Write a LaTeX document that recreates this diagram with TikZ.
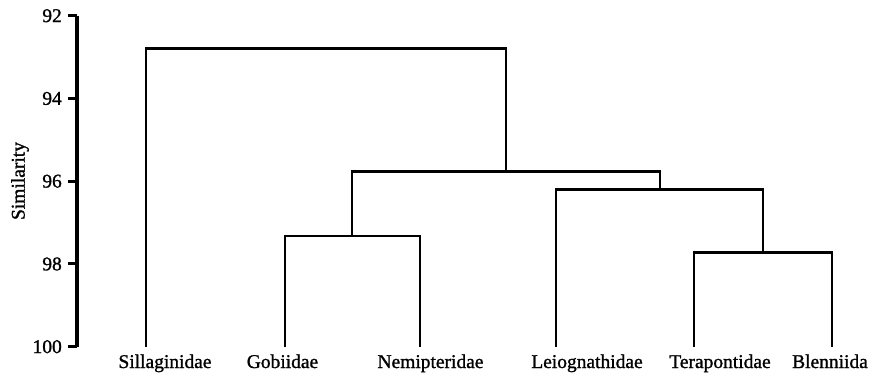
\documentclass[tikz,border=0pt]{standalone}
\usepackage{fontspec}
\setmainfont{Liberation Serif}[FakeBold=1.2]

\tikzset{every picture/.style={line width=0.75pt}}
\tikzset{
	branch/.style={line width=2.1pt, line join=miter},
	axisline/.style={line width=2.3pt},
	taxon/.style={font=\fontsize{14.6}{17}\selectfont, anchor=base, inner sep=0pt},
	ticklabel/.style={font=\fontsize{14.6}{17}\selectfont, anchor=east, inner sep=0pt}
}

\begin{document}
\begin{tikzpicture}[x=0.75pt,y=0.75pt,yscale=-1,xscale=1]
	\useasboundingbox (0,0) rectangle (872,379);

	%Axis
	\coordinate (axtop) at (77,15.7);
	\coordinate (axbot) at (77,346.7);
	\draw [axisline]   (axtop) -- (axbot) ;
	\foreach \v in {92,94,96,98,100} {
		\coordinate (tick\v) at (77,{15.7+(\v-92)*41.375});
		\draw [axisline]   (tick\v) -- ++(-9,0) node [ticklabel, xshift=-3.5pt, name=lbl\v] {\v};
	}
	% Text Node
	\node [font=\fontsize{14.6}{17}\selectfont, rotate=90] (ylabel) at (20,181) {Similarity};

	%Leaves
	\coordinate (sil) at (146,346.7);
	\coordinate (gob) at (285,346.7);
	\coordinate (nem) at (420,346.7);
	\coordinate (lei) at (556,346.7);
	\coordinate (ter) at (694,346.7);
	\coordinate (ble) at (832,346.7);

	%Merges
	\coordinate (gobnem) at (352,236);
	\coordinate (terble) at (763,252.7);
	\coordinate (leiter) at (660,189.3);
	\coordinate (inner) at (506,171.7);
	\coordinate (root) at (326,48.3);

	%Branches
	\draw [branch]   (gob) |- (gobnem) -| (nem) ;
	\draw [branch]   (ter) |- (terble) -| (ble) ;
	\draw [branch]   (lei) |- (leiter) -| (terble) ;
	\draw [branch]   (gobnem) |- (inner) -| (leiter) ;
	\draw [branch]   (sil) |- (root) -| (inner) ;

	% Text Node
	\node [taxon] (tsil) at (165,368) {Sillaginidae};
	% Text Node
	\node [taxon] (tgob) at (282.5,368) {Gobiidae};
	% Text Node
	\node [taxon] (tnem) at (430.5,368) {Nemipteridae};
	% Text Node
	\node [taxon] (tlei) at (587,368) {Leiognathidae};
	% Text Node
	\node [taxon] (tter) at (720,368) {Terapontidae};
	% Text Node
	\node [taxon] (tble) at (830,368) {Blenniida};

\end{tikzpicture}
\end{document}
